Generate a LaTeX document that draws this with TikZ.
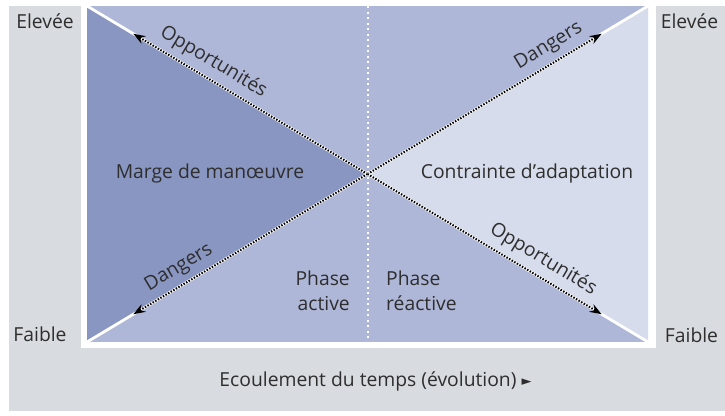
\documentclass[tikz,border=0pt]{standalone}
\usepackage{fontspec}
\setmainfont{Open Sans}
\newfontfamily\symfont{DejaVu Sans}
\usetikzlibrary{arrows.meta}
\definecolor{panel}{HTML}{D8DBDF}
\definecolor{darkblue}{HTML}{8996C1}
\definecolor{midblue}{HTML}{AEB7D7}
\definecolor{lightblue}{HTML}{D6DCEB}
\definecolor{ink}{HTML}{2E2E2E}
\tikzset{
  lbl/.style={text=ink, inner sep=0pt, font=\fontsize{19.3}{25}\selectfont},
  whiteline/.style={draw=white, line width=2.8pt},
  dotline/.style={draw=black, line width=2pt, dash pattern=on 1.5pt off 1.5pt,
    -{Stealth[length=12pt,width=8.5pt]}},
  middotted/.style={draw=white, line width=2pt, dash pattern=on 2pt off 3.5pt},
  diaglbl/.style={lbl, sloped, above=7pt}
}
\begin{document}
\begin{tikzpicture}[x=1pt,y=-1pt]
\useasboundingbox (0,0) rectangle (725,415);
\fill[panel] (9,6) rectangle (725,411);
\fill[white] (81,6) rectangle (656,348);
\coordinate (TL) at (87,6);
\coordinate (TR) at (648,6);
\coordinate (BL) at (87,342);
\coordinate (BR) at (648,342);
\coordinate (C) at (367.5,174);
\coordinate (MT) at (367.5,6);
\coordinate (MB) at (367.5,342);
\fill[midblue] (TL) rectangle (BR);
\fill[darkblue] (TL) -- (C) -- (BL) -- cycle;
\fill[lightblue] (TR) -- (C) -- (BR) -- cycle;
\draw[middotted] (MT) -- (MB);
% diagonals
\foreach \k in {TL,TR,BL,BR}{
  \draw[whiteline] (C) -- (\k);
  \path (C) -- (\k) coordinate[pos=0.835] (a\k);
  \draw[dotline] (C) -- (a\k);
}
% diagonal labels
\path (TL) -- (C) node[diaglbl, pos=0.42] (opp1) {Opportunités};
\path (BL) -- (C) node[diaglbl, pos=0.358] (dan1) {Dangers};
\path (C) -- (TR) node[diaglbl, pos=0.676] (dan2) {Dangers};
\path (C) -- (BR) node[diaglbl, pos=0.595] (opp2) {Opportunités};
% region labels
\node[lbl, anchor=base] (marge) at (210,178) {Marge de manœuvre};
\node[lbl, anchor=base] (contr) at (527,178) {Contrainte d’adaptation};
\node[lbl, anchor=north east, align=right] (pa) at (350,270.5) {Phase\\active};
\node[lbl, anchor=north west, align=left] (pr) at (386,270.5) {Phase\\réactive};
% axis labels
\node[lbl, anchor=base] (el1) at (45,28) {Elevée};
\node[lbl, anchor=base] (fa1) at (40,341) {Faible};
\node[lbl, anchor=base] (el2) at (689.5,28) {Elevée};
\node[lbl, anchor=base] (fa2) at (691.5,342) {Faible};
\node[lbl, anchor=base] (time) at (375.5,386) {Ecoulement du temps (évolution) \raisebox{0.5pt}{\symfont\fontsize{13}{13}\selectfont ►}};
\end{tikzpicture}
\end{document}
